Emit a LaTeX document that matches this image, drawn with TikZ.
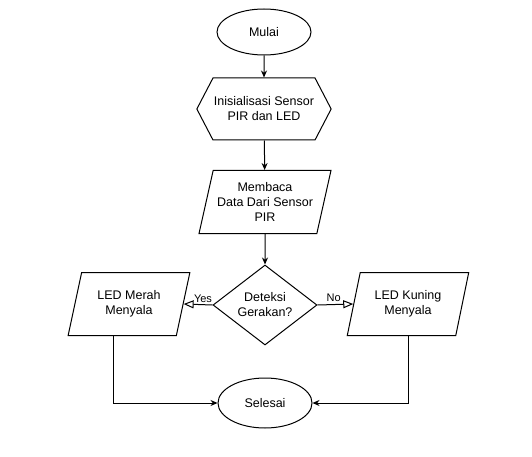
\documentclass[tikz,border=0pt]{standalone}
\usepackage{fontspec}
\setmainfont{Liberation Sans}
\usetikzlibrary{arrows.meta,positioning,shapes.geometric,shapes.symbols,calc}

\begin{document}
\begin{tikzpicture}[
  x=1pt,y=-1pt,
  every node/.style={font=\fontsize{12.5}{15}\selectfont},
  >={Stealth[length=7pt,width=6pt]},
  term/.style ={draw,ellipse,line width=1pt,minimum width=94pt,minimum height=46pt,
                inner sep=0pt,align=center},
  prep/.style ={draw,signal,signal to=west and east,signal pointer angle=125,
                line width=1pt,minimum width=134pt,minimum height=62pt,inner sep=1pt,
                align=center},
  io/.style   ={draw,trapezium,trapezium left angle=72,trapezium right angle=108,
                trapezium stretches=true,line width=1pt,minimum width=122pt,
                minimum height=63pt,inner sep=1pt,align=center},
  dec/.style  ={draw,diamond,line width=1pt,minimum width=104pt,minimum height=80pt,
                inner sep=0pt,aspect=1.3,align=center},
  flow/.style ={->,line width=1pt},
  branch/.style={-{Triangle[open,length=10pt,width=8pt]},line width=1pt},
  lbl/.style  ={font=\fontsize{11}{13}\selectfont,inner sep=2pt}
]
\useasboundingbox (0,0) rectangle (532,457);
\node[term] (mulai)   at (264, 32) {Mulai};
\node[prep] (init)    at (264,109) {Inisialisasi Sensor\\PIR dan LED};
\node[io,minimum width=132pt] (baca) at (265,202) {Membaca\\Data Dari Sensor\\PIR};
\node[dec]  (deteksi) at (265,305) {Deteksi\\Gerakan?};
\node[io]   (merah)   at (129,304) {LED Merah\\Menyala};
\node[io]   (kuning)  at (408,304) {LED Kuning\\Menyala};
\node[term,minimum height=50pt] (selesai) at (265,403) {Selesai};

\draw[flow] (mulai) -- (init);
\draw[flow] (init) -- (baca);
\draw[flow] (baca) -- (deteksi);
\draw[branch] (deteksi.west) -- node[lbl,above,pos=0.33] (yes) {Yes} (merah.east);
\draw[branch] (deteksi.east) -- node[lbl,above,pos=0.45] (no) {No} (kuning.east -| kuning.west);
\draw[flow] ([xshift=-16pt]merah.south) |- (selesai.west);
\draw[flow] (kuning.south) |- (selesai.east);
\end{tikzpicture}
\end{document}
